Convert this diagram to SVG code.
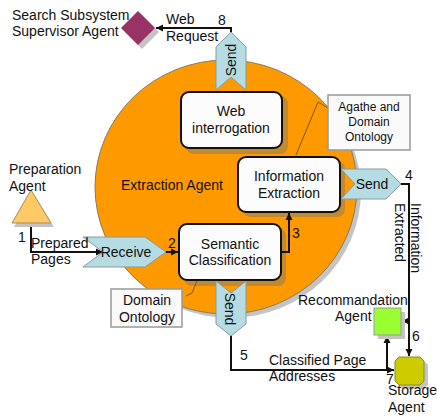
<svg xmlns="http://www.w3.org/2000/svg" width="437" height="416" viewBox="0 0 437 416">
<style>
text{font-family:"Liberation Sans",Arial,sans-serif;font-size:14px;fill:#111}
.m{text-anchor:middle}
.box{fill:#fcfcfc;stroke:#111;stroke-width:2}
.sh{fill:#c28a30}
.pent{fill:#b5dce2;stroke:#8a9a9e;stroke-width:1}
.note{fill:#fafafa;stroke:#999;stroke-width:1.5}
.gs{fill:#c4c4c4}
.c{fill:none;stroke:#111;stroke-width:2}
.thin{fill:none;stroke:#7a5a20;stroke-width:1}
</style>
<defs>
<marker id="a" markerUnits="userSpaceOnUse" markerWidth="8" markerHeight="8" refX="7" refY="4" orient="auto"><path d="M0 0.5L7 4L0 7.5z" fill="#111"/></marker>
</defs>
<g id="extraction-agent">
<ellipse class="gs" cx="230" cy="191" rx="131" ry="127"/>
<ellipse cx="226" cy="187" rx="131" ry="127" fill="#ff9900" stroke="#8a7a5a" stroke-width="1"/>
<text x="121" y="190">Extraction Agent</text>
</g>
<g id="web-interrogation">
<rect class="sh" x="186" y="96" width="102" height="58" rx="8"/>
<rect class="box" x="181" y="92" width="101" height="56" rx="8"/>
<text class="m" x="231" y="116">Web</text>
<text class="m" x="231" y="133">interrogation</text>
</g>
<g id="information-extraction">
<rect class="sh" x="243" y="161" width="102" height="56" rx="8"/>
<rect class="box" x="238" y="157" width="102" height="55" rx="8"/>
<text class="m" x="289" y="181">Information</text>
<text class="m" x="289" y="198">Extraction</text>
</g>
<g id="semantic-classification">
<rect class="sh" x="184" y="228" width="102" height="58" rx="8"/>
<rect class="box" x="179" y="224" width="102" height="56" rx="8"/>
<text class="m" x="230" y="249">Semantic</text>
<text class="m" x="230" y="265">Classification</text>
</g>
<g id="agathe-note">
<path class="thin" d="M296 155L318 102L328 108"/>
<rect class="note" x="328" y="95" width="82" height="55"/>
<text class="m" x="369" y="111" style="font-size:12px">Agathe and</text>
<text class="m" x="369" y="126" style="font-size:12px">Domain</text>
<text class="m" x="369" y="141" style="font-size:12px">Ontology</text>
</g>
<g id="domain-note">
<path class="thin" d="M197 281L192 293L186 296"/>
<rect class="note" x="111" y="289" width="71" height="38"/>
<text class="m" x="147" y="305">Domain</text>
<text class="m" x="147" y="322">Ontology</text>
</g>
<g id="connectors">
<path class="c" d="M31 223V252H103" marker-end="url(#a)"/>
<path class="c" d="M166 252H178" marker-end="url(#a)"/>
<path class="c" d="M281 252H289V213" marker-end="url(#a)"/>
<path class="c" d="M401 184H409V356" marker-end="url(#a)"/>
<path class="c" d="M409 321H402" marker-end="url(#a)"/>
<path class="c" d="M231 336V370H394" marker-end="url(#a)"/>
<path class="c" d="M387 370V336" marker-end="url(#a)"/>
<path class="c" d="M231 32V28H156" marker-end="url(#a)"/>
</g>
<g id="send-top">
<path class="pent" d="M216 47L231 32L246 47V90L231 77L216 90z"/>
<text class="m" transform="translate(236,60) rotate(-90)">Send</text>
</g>
<g id="send-right">
<path class="pent" d="M341 169H386L401 184L386 199H341L355 184z"/>
<text class="m" x="372" y="189">Send</text>
</g>
<g id="receive">
<path class="pent" d="M83 237H145L166 252L145 267H83L103 252z"/>
<text class="m" x="126" y="257">Receive</text>
</g>
<g id="send-bottom">
<path class="pent" d="M216 281L231 293L246 281V324L231 336L216 324z"/>
<text class="m" transform="translate(225,309) rotate(90)">Send</text>
</g>
<g id="preparation-agent">
<path class="gs" d="M33 193L14 227H54z"/>
<path d="M31 190L12 223H51z" fill="#ffc966" stroke="#a09060" stroke-width="1"/>
<text x="9" y="174">Preparation</text>
<text x="9" y="191">Agent</text>
</g>
<g id="search-supervisor">
<path class="gs" d="M142 15L159 32L142 49L125 32z"/>
<path d="M138 11L155 28L138 45L121 28z" fill="#993366"/>
<text x="12" y="20">Search Subsystem</text>
<text x="12" y="36">Supervisor Agent</text>
</g>
<g id="recommandation-agent">
<rect class="gs" x="378" y="312" width="27" height="27"/>
<rect x="374" y="308" width="27" height="27" fill="#99ff33" stroke="#999" stroke-width="1"/>
<text x="298" y="305">Recommandation</text>
<text x="335" y="321">Agent</text>
</g>
<g id="storage-agent">
<path class="gs" d="M403 361H424L428 365V385L424 389H403L399 385V365z"/>
<path d="M399 357H420L424 361V381L420 385H399L395 381V361z" fill="#cccc00" stroke="#8a8a20" stroke-width="1"/>
<text x="388" y="395">Storage</text>
<text x="388" y="412">Agent</text>
</g>
<g id="labels">
<text x="166" y="24">Web</text>
<text x="166" y="41">Request</text>
<text x="218" y="25">8</text>
<text x="18" y="242">1</text>
<text x="31" y="248">Prepared</text>
<text x="31" y="264">Pages</text>
<text x="168" y="248">2</text>
<text x="292" y="238">3</text>
<text x="405" y="180">4</text>
<text x="240" y="360">5</text>
<text x="412" y="341">6</text>
<text x="386" y="384">7</text>
<text x="269" y="365">Classified Page</text>
<text x="269" y="381">Addresses</text>
<g transform="translate(411,203) rotate(90)"><text>Information</text></g>
<g transform="translate(395,203) rotate(90)"><text>Extracted</text></g>
</g>
</svg>
